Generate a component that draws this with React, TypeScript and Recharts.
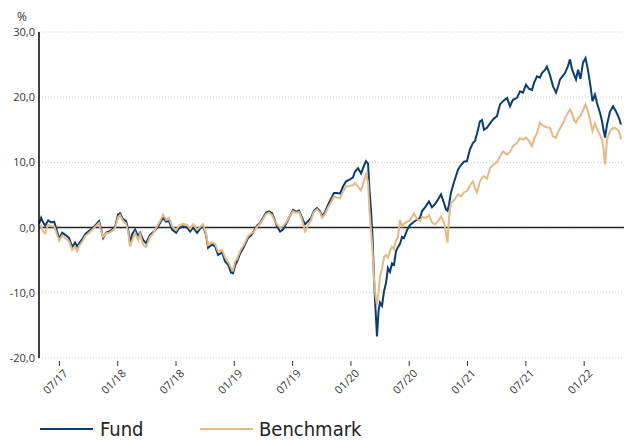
import React from 'react';
import { LineChart, Line, XAxis, YAxis, CartesianGrid, ReferenceLine } from 'recharts';

// x = months since 01/2017 (6 = 07/17, 12 = 01/18, ...)
const months = [
    3.91, 4.12, 4.32, 4.53, 4.84, 5.15, 5.46, 5.76, 5.97, 6.28, 6.69, 7.0, 7.31, 7.61, 7.82, 8.03, 8.34, 8.65, 9.06, 9.47,
    9.78, 10.08, 10.29, 10.5, 10.8, 11.11, 11.42, 11.73, 12.04, 12.24, 12.55, 12.86, 13.07, 13.27, 13.48, 13.79, 14.1, 14.3, 14.61, 14.92,
    15.33, 15.64, 16.05, 16.36, 16.67, 16.98, 17.29, 17.59, 18.01, 18.31, 18.72, 19.14, 19.45, 19.76, 20.17, 20.47, 20.78, 21.09, 21.3, 21.71,
    22.02, 22.33, 22.74, 23.05, 23.36, 23.67, 23.87, 24.08, 24.28, 24.59, 25.0, 25.41, 25.72, 26.03, 26.34, 26.65, 26.96, 27.27, 27.57, 27.88,
    28.09, 28.4, 28.71, 29.01, 29.32, 29.63, 30.04, 30.35, 30.66, 30.97, 31.28, 31.59, 31.9, 32.2, 32.51, 32.82, 33.03, 33.34, 33.65, 33.95,
    34.26, 34.57, 34.88, 35.19, 35.5, 35.91, 36.21, 36.42, 36.73, 37.04, 37.35, 37.55, 37.76, 37.91, 38.07, 38.22, 38.38, 38.53, 38.68, 38.84,
    38.99, 39.2, 39.4, 39.61, 39.81, 40.02, 40.23, 40.43, 40.64, 40.84, 41.05, 41.26, 41.46, 41.77, 42.08, 42.49, 42.8, 43.11, 43.31, 43.72,
    44.03, 44.34, 44.65, 44.96, 45.27, 45.57, 45.78, 45.94, 46.09, 46.3, 46.61, 47.02, 47.33, 47.63, 47.94, 48.25, 48.56, 48.77, 48.97, 49.28,
    49.49, 49.69, 50.0, 50.31, 50.62, 51.03, 51.34, 51.65, 52.06, 52.37, 52.67, 53.09, 53.4, 53.7, 54.01, 54.32, 54.63, 54.84, 55.15, 55.45,
    55.66, 55.97, 56.17, 56.48, 56.79, 57.1, 57.31, 57.51, 57.82, 58.03, 58.34, 58.54, 58.75, 58.95, 59.16, 59.37, 59.62, 59.88, 60.14, 60.39,
    60.65, 60.86, 61.11, 61.32, 61.63, 61.84, 61.99, 62.15, 62.35, 62.66, 62.97, 63.28, 63.59, 63.79,
];

const fund = [
    0.6, 1.5, 0.8, 0.3, 1.1, 0.8, 0.9, -0.6, -1.7, -0.8, -1.2, -1.6, -3.0, -2.3, -2.9, -2.4, -1.8, -1.0, -0.5, 0.0,
    0.5, 1.0, -0.2, -1.6, -0.8, -0.6, -0.3, 0.1, 2.0, 2.2, 1.3, 1.0, -0.2, -2.4, -1.0, -0.3, -1.3, -0.8, -1.9, -2.4,
    -1.1, -0.7, -0.1, 0.7, 1.5, 0.9, 1.0, -0.3, -0.8, -0.1, 0.2, 0.0, -0.6, 0.0, -0.8, -0.2, 0.3, -1.1, -3.1, -2.6,
    -2.9, -4.2, -3.8, -5.2, -5.7, -6.9, -7.0, -5.8, -5.2, -4.0, -2.9, -1.6, -1.2, -0.5, 0.3, 0.7, 1.5, 2.3, 2.5, 2.2,
    1.4, 0.2, -0.6, -0.3, 0.6, 1.5, 2.7, 2.4, 2.6, 1.5, 0.5, 1.0, 1.5, 2.6, 3.0, 2.5, 1.7, 2.4, 3.5, 4.4,
    5.3, 5.3, 5.2, 6.3, 7.1, 7.4, 7.7, 8.6, 9.1, 8.3, 9.5, 10.2, 9.8, 5.8, 2.5, -1.4, -8.0, -12.5, -16.7, -12.8,
    -11.5, -12.0, -9.8, -8.5, -6.2, -6.8, -5.5, -5.7, -3.6, -3.0, -2.5, -1.4, -1.6, -0.4, 0.4, 0.9, 1.2, 1.5, 2.5, 3.3,
    4.0, 3.1, 3.6, 4.3, 5.1, 3.8, 2.8, 2.6, 3.5, 5.4, 7.0, 8.9, 9.6, 10.1, 10.2, 12.0, 13.0, 13.3, 14.4, 16.3,
    16.5, 15.0, 15.3, 16.0, 16.6, 17.1, 18.9, 19.4, 19.9, 18.6, 19.6, 19.9, 20.9, 20.7, 21.9, 21.3, 21.1, 22.2, 23.2, 23.0,
    23.7, 24.2, 24.7, 23.4, 21.7, 20.7, 21.6, 22.7, 23.3, 23.7, 24.8, 25.8, 24.3, 23.5, 22.7, 24.2, 22.8, 25.3, 26.0, 24.2,
    21.7, 19.4, 20.4, 19.1, 17.6, 16.3, 15.0, 13.8, 15.8, 17.8, 18.6, 17.8, 16.8, 15.8,
];

const benchmark = [
    0.0, 0.3, -0.6, -0.9, 0.4, 0.2, 0.2, -1.1, -2.0, -1.2, -1.7, -2.1, -3.4, -2.9, -3.6, -2.8, -2.2, -1.3, -0.8, -0.2,
    0.3, 0.7, -0.5, -1.4, -0.9, -0.8, -0.5, -0.1, 1.6, 1.9, 1.0, 0.6, -0.6, -2.9, -2.0, -0.8, -1.9, -1.0, -2.6, -3.0,
    -1.4, -0.9, 0.2, 1.0, 2.0, 1.2, 1.5, 0.2, -0.4, 0.3, 0.6, 0.4, -0.2, 0.5, -0.3, 0.1, 0.5, -0.9, -2.7, -2.2,
    -2.5, -3.7, -3.4, -4.6, -5.2, -6.2, -6.5, -5.2, -4.8, -3.6, -2.6, -1.3, -0.9, -0.6, 0.1, 0.6, 1.3, 2.1, 2.3, 1.9,
    1.2, 0.5, 0.0, 0.2, 0.8, 1.6, 2.5, 2.3, 2.4, 1.2, -0.6, 0.3, 1.2, 2.4, 2.8, 2.3, 1.5, 2.1, 3.1, 3.9,
    4.8, 4.6, 4.5, 5.5, 6.3, 6.4, 6.5, 6.8, 6.3, 5.7, 7.2, 8.2, 7.0, 2.5, -0.5, -3.5, -8.0, -10.5, -11.8, -10.0,
    -7.5, -6.3, -4.5, -4.2, -4.6, -3.6, -2.9, -3.3, -2.0, -1.5, 1.2, 0.2, 0.6, 0.9, 1.1, 2.2, 1.3, 1.0, 1.6, 1.5,
    1.9, 0.8, 0.5, 1.0, 1.7, 0.8, -0.9, -2.3, 1.5, 3.8, 4.2, 5.1, 4.8, 5.4, 5.6, 6.5, 7.1, 6.0, 5.4, 7.1,
    7.6, 7.9, 7.5, 9.1, 9.6, 10.1, 10.9, 11.7, 11.2, 11.6, 12.5, 13.0, 13.7, 13.5, 13.8, 13.3, 12.5, 13.6, 14.5, 16.1,
    15.7, 15.5, 15.4, 15.3, 14.0, 13.8, 14.6, 15.2, 16.0, 16.8, 17.6, 18.1, 17.5, 16.5, 16.1, 16.8, 17.1, 18.0, 18.9, 17.8,
    16.2, 14.8, 16.0, 15.2, 14.2, 13.5, 12.0, 9.7, 13.5, 14.8, 15.3, 15.2, 14.8, 13.5,
];

const xTicks = [6, 12, 18, 24, 30, 36, 42, 48, 54, 60];
const xTickLabels = ['07/17', '01/18', '07/18', '01/19', '07/19', '01/20', '07/20', '01/21', '07/21', '01/22'];
const yTicks = [-20, -10, 0, 10, 20, 30];

const data = months.map((m, i) => ({ m, fund: fund[i], benchmark: benchmark[i] }));

const FUND_COLOR = '#0b3d6e';
const BENCH_COLOR = '#e2b987';
const TICK_FONT = '"Open Sans", "DejaVu Sans", sans-serif';

function XTick(props: any) {
    const { x, y, payload } = props;
    const idx = xTicks.indexOf(payload.value);
    return (
        <g>
            <line x1={x} y1={y - 5} x2={x} y2={y} stroke="#333" strokeWidth={1} />
            <text
                x={x + 9}
                y={y + 8}
                textAnchor="end"
                fontSize={11}
                fill="#333"
                fontFamily={TICK_FONT}
                transform={`rotate(-45, ${x + 9}, ${y + 8})`}
            >
                {xTickLabels[idx]}
            </text>
        </g>
    );
}

export default function App() {
    return (
        <div style={{ position: 'absolute', left: 0, top: 0, width: 624, height: 442, background: '#fff' }}>
            <LineChart
                width={624}
                height={442}
                data={data}
                margin={{ top: 32, right: 0, bottom: 0, left: 0 }}
            >
                <CartesianGrid vertical={false} stroke="#c8c8c8" strokeDasharray="1 2" />
                <XAxis
                    dataKey="m"
                    type="number"
                    domain={[3.9, 64.1]}
                    ticks={xTicks}
                    tick={<XTick />}
                    tickLine={false}
                    axisLine={false}
                    height={84}
                    interval={0}
                />
                <YAxis
                    domain={[-20, 30]}
                    ticks={yTicks}
                    width={39}
                    tickLine={false}
                    axisLine={{ stroke: '#000', strokeWidth: 1.5 }}
                    tickFormatter={(v: number) => v.toFixed(1).replace('.', ',')}
                    tick={{ fontSize: 11, fill: '#333', fontFamily: TICK_FONT, dx: 4 }}
                />
                <ReferenceLine y={0} stroke="#222" strokeWidth={1.5} />
                <Line
                    type="linear"
                    dataKey="fund"
                    stroke={FUND_COLOR}
                    strokeWidth={2}
                    dot={false}
                    isAnimationActive={false}
                />
                <Line
                    type="linear"
                    dataKey="benchmark"
                    stroke={BENCH_COLOR}
                    strokeWidth={2}
                    dot={false}
                    isAnimationActive={false}
                />
            </LineChart>
            <div
                style={{
                    position: 'absolute',
                    left: 17,
                    top: 8,
                    fontSize: 12,
                    color: '#333',
                    fontFamily: TICK_FONT,
                }}
            >
                %
            </div>
            <div
                style={{
                    position: 'absolute',
                    left: 40,
                    top: 417,
                    display: 'flex',
                    alignItems: 'center',
                    fontFamily: '"DejaVu Sans Condensed", "Liberation Sans Narrow", sans-serif',
                    fontStretch: 'condensed',
                    fontSize: 20,
                    color: '#222',
                    whiteSpace: 'nowrap',
                }}
            >
                <span style={{ display: 'inline-block', width: 53, height: 2, background: FUND_COLOR, marginRight: 7 }} />
                <span style={{ display: 'inline-block', width: 100 }}>Fund</span>
                <span style={{ display: 'inline-block', width: 53, height: 2, background: BENCH_COLOR, marginRight: 6 }} />
                <span>Benchmark</span>
            </div>
        </div>
    );
}
